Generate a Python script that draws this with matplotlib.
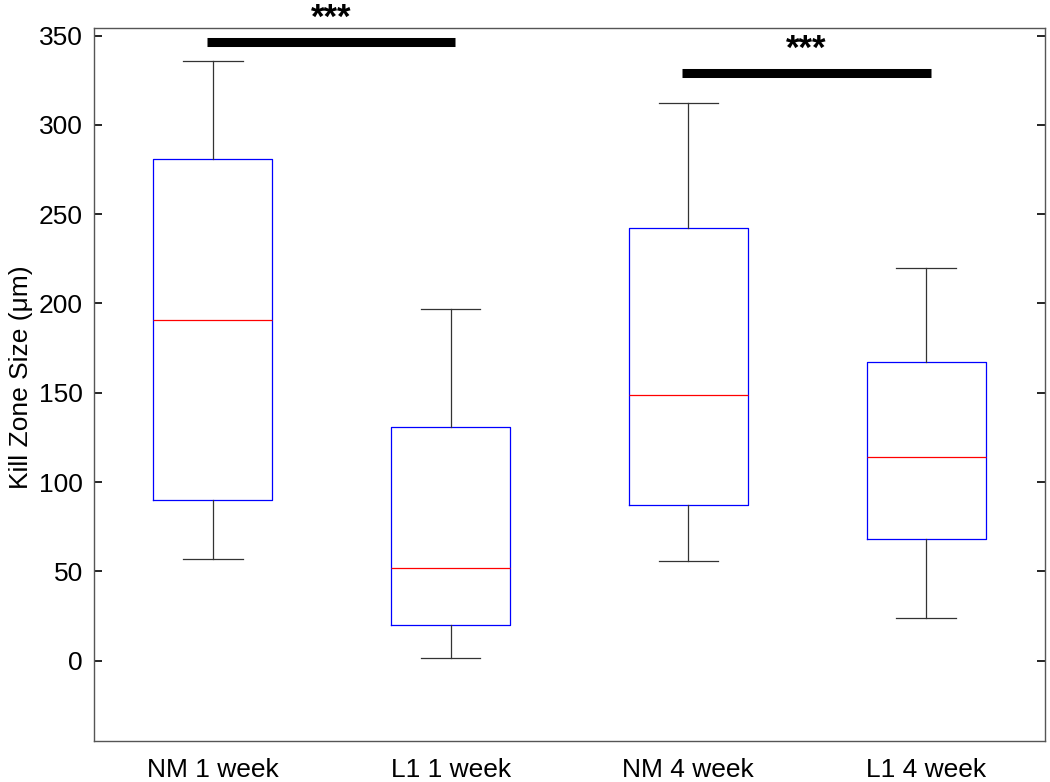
import matplotlib
matplotlib.use("Agg")
import matplotlib.pyplot as plt

categories = ["NM 1 week", "L1 1 week", "NM 4 week", "L1 4 week"]
whisker_low = [57, 1.5, 56, 24]
q1 = [90, 20, 87, 68]
median = [191, 52, 149, 114]
q3 = [281, 131, 242, 167]
whisker_high = [336, 197, 312, 220]

yticks = [0, 50, 100, 150, 200, 250, 300, 350]
ylabel = "Kill Zone Size (μm)"

# significance bars
sig_x0 = [0.975, 2.975]
sig_x1 = [2.02, 4.02]
sig_y = [346.5, 329]
sig_text_y = [354.5, 337]
sig_label = ["***", "***"]

plt.rcParams['font.family'] = ['Liberation Sans', 'DejaVu Sans']

fig = plt.figure(figsize=(10.5, 7.82), dpi=100)
ax = fig.add_axes([0.0895, 0.0524, 0.9057, 0.9112])

stats = []
for i, c in enumerate(categories):
    stats.append(dict(label=c, whislo=whisker_low[i], q1=q1[i], med=median[i],
                      q3=q3[i], whishi=whisker_high[i], fliers=[]))

ax.bxp(stats, positions=range(1, len(categories) + 1), widths=0.5,
       showfliers=False,
       boxprops=dict(color='#0000ff', linewidth=0.9),
       medianprops=dict(color='#ff0000', linewidth=0.9),
       whiskerprops=dict(color='#333333', linewidth=0.9),
       capprops=dict(color='#333333', linewidth=0.9),
       capwidths=0.25)

for x0, x1, y, ty, lab in zip(sig_x0, sig_x1, sig_y, sig_text_y, sig_label):
    ax.plot([x0, x1], [y, y], color='black', linewidth=6.5,
            solid_capstyle='butt', clip_on=False)
    ax.text((x0 + x1) / 2, ty, lab, ha='center', va='baseline',
            fontsize=25, fontweight='bold', clip_on=False)

ax.set_xlim(0.5, 4.5)
ax.set_ylim(-45, 354)
ax.set_yticks(yticks)
ax.set_yticklabels([str(t) for t in yticks])
ax.set_ylabel(ylabel, fontsize=19)
ax.yaxis.set_label_coords(-0.064, 0.51)
ax.tick_params(axis='y', direction='in', length=6, width=1.2,
               labelsize=19, right=True, pad=8, color='black')
ax.tick_params(axis='x', length=0, labelsize=19, pad=12.5)

for s in ax.spines.values():
    s.set_color('#555555')
    s.set_linewidth(1.0)

fig.savefig("out.png", dpi=100)
